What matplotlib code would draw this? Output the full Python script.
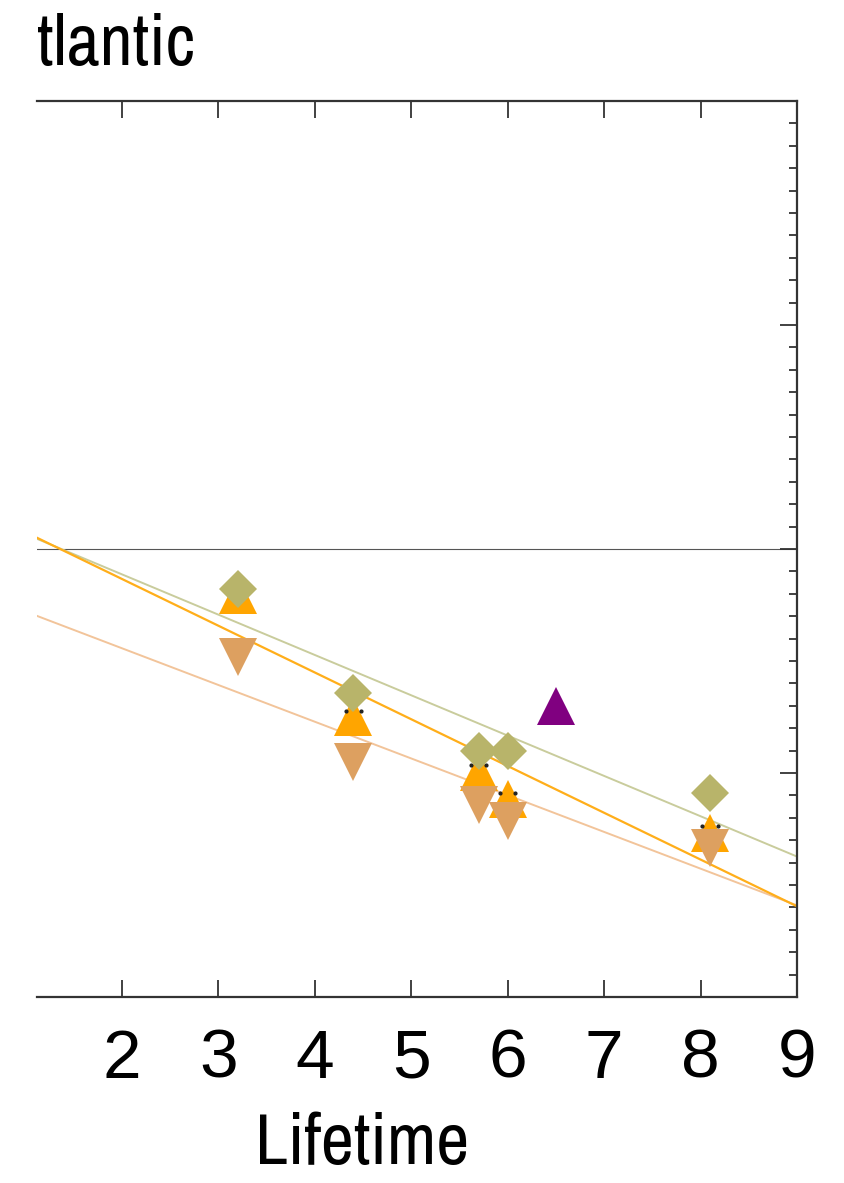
import matplotlib.pyplot as plt
import numpy as np
from matplotlib import font_manager
from matplotlib.ticker import MultipleLocator

# narrow grotesque if one is installed, plain sans otherwise
names = {f.name for f in font_manager.fontManager.ttflist}
face = 'Liberation Sans'
for cand in ['Liberation Sans Narrow', 'Arial Narrow', 'Nimbus Sans Narrow',
             'Archivo Narrow', 'Roboto Condensed', 'PT Sans Narrow']:
    if cand in names:
        face = cand
        break
plt.rcParams['font.family'] = [face, 'DejaVu Sans']

# lifetime of each case
life = [3.2, 4.4, 5.7, 6.0, 8.1]
diam = [-0.179, -0.643, -0.902, -0.902, -1.089]
up_tri = [-0.205, -0.752, -0.995, -1.118, -1.266]
down_tri = [-0.482, -0.953, -1.141, -1.214, -1.333]
extra_x = [6.5]
extra_y = [-0.701]

# fitted lines: (intercept, slope)
fit_diam = (0.247, -0.180)
fit_up = (0.284, -0.2088)
fit_down = (-0.115, -0.164)

c_diam = '#B8B46A'
c_up = '#FFA500'
c_down = '#DDA060'
c_extra = '#800080'

fig = plt.figure(figsize=(8.45, 11.83), dpi=100)
ax = fig.add_axes([37/845, 1 - 997/1183, 760/845, 896/1183])

xx = np.array([1.12, 9.0])
ax.axhline(0, color='#555555', lw=0.8, zorder=1)
ax.plot(xx, fit_diam[0] + fit_diam[1]*xx, color='#C9CC9C', lw=1.4, zorder=2)
ax.plot(xx, fit_down[0] + fit_down[1]*xx, color='#F2C49A', lw=1.4, zorder=2)
ax.plot(xx, fit_up[0] + fit_up[1]*xx, color='#FFAE1A', lw=1.6, zorder=2)

ax.plot(life, up_tri, '^', color=c_up, ms=27.4, mew=0, zorder=3)
lx = np.array(life)
uy = np.array(up_tri)
ax.plot(np.r_[lx - 0.08, lx + 0.08], np.r_[uy + 0.03, uy + 0.03], 'o',
        color='#222222', ms=2.0, zorder=3.5)
ax.plot(life, down_tri, 'v', color=c_down, ms=27.4, mew=0, zorder=4)
ax.plot(life, diam, 'D', color=c_diam, ms=19.3, mew=0, zorder=5)
ax.plot(extra_x, extra_y, '^', color=c_extra, ms=27.4, mew=0, zorder=5)

ax.set_xlim(1.12, 9)
ax.set_ylim(-2, 2)
ax.xaxis.set_major_locator(MultipleLocator(1))
ax.yaxis.set_major_locator(MultipleLocator(1))
ax.yaxis.set_minor_locator(MultipleLocator(0.1))
ax.spines['left'].set_visible(False)
for s in ['top', 'right', 'bottom']:
    ax.spines[s].set_linewidth(1.6)
    ax.spines[s].set_color('#333333')
ax.tick_params(axis='x', which='major', direction='in', top=True, bottom=True,
               length=12, width=1.3, color='#333333', labelsize=50, pad=22)
for lab in ax.get_xticklabels():
    lab.set_family(['Liberation Sans', 'DejaVu Sans'])
ax.tick_params(axis='y', which='both', direction='in', left=False, right=True,
               labelleft=False, labelright=False, color='#333333', width=1.3)
ax.tick_params(axis='y', which='major', length=12)
ax.tick_params(axis='y', which='minor', length=5.5)

ax.set_xlabel('Lifetime', fontsize=52)
ax.xaxis.set_label_coords((362 - 37)/760, -0.128)

fig.text(37/845, 1 - 65/1183, 'tlantic', fontsize=52, ha='left', va='baseline')

fig.savefig('out.png', dpi=100)
